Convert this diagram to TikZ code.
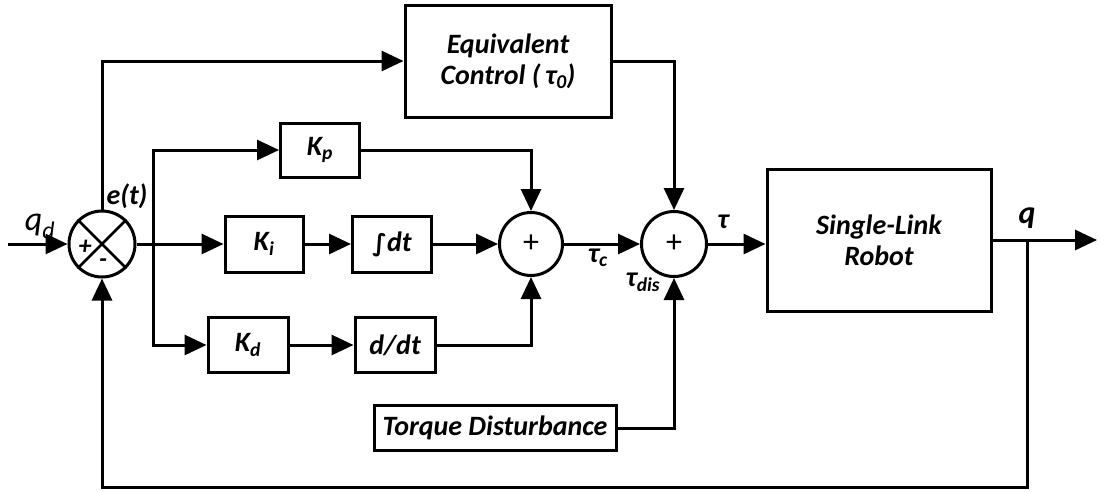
\documentclass[tikz,border=0pt]{standalone}
\usepackage{fontspec}
\setmainfont{Carlito}
\newfontfamily\symfont{DejaVu Sans}
\usetikzlibrary{arrows.meta}
\begin{document}
\begin{tikzpicture}[x=1pt,y=-1pt,
  line width=3pt,
  lbl/.style={font=\fontsize{28}{31}\selectfont\bfseries\itshape},
  blk/.style={draw,rectangle,line width=3pt,inner sep=0pt,align=center,lbl},
  sumc/.style={draw,circle,line width=3pt,inner sep=0pt},
  arr/.style={-{Triangle[length=22pt,width=20pt]}}]
\useasboundingbox (0,0) rectangle (1100,491);
% nodes
\node[sumc,minimum size=66pt] (se) at (102,244) {};
\node[blk,minimum width=206pt,minimum height=112pt] (eq) at (508,61) {Equivalent\\Control (\,τ\textsubscript{0})};
\node[blk,minimum width=79pt,minimum height=54pt] (kp) at (320,150) {K\textsubscript{p}};
\node[blk,minimum width=78pt,minimum height=56pt] (ki) at (264,244) {K\textsubscript{i}};
\node[blk,minimum width=79pt,minimum height=56pt] (int) at (392,244) {{\symfont\itshape\fontsize{24}{26}\selectfont ∫}dt};
\node[blk,minimum width=80pt,minimum height=55pt] (kd) at (248,345) {K\textsubscript{d}};
\node[blk,minimum width=80pt,minimum height=55pt] (ddt) at (395,345) {d/dt};
\node[sumc,minimum size=63pt] (s1) at (531,244) {\fontsize{32}{34}\selectfont +};
\node[sumc,minimum size=65pt] (s2) at (674,244) {\fontsize{32}{34}\selectfont +};
\node[blk,minimum width=224pt,minimum height=142pt] (rob) at (879,240) {Single-Link\\Robot};
\node[blk,minimum width=242pt,minimum height=45pt] (td) at (495,428) {Torque Disturbance};
% junction details
\draw[line width=2.6pt] (se.north west) -- (se.south east);
\draw[line width=2.6pt] (se.north east) -- (se.south west);
\node[font=\fontsize{26}{28}\selectfont\bfseries\itshape] (plus) at (85,247) {+};
\node[font=\fontsize{26}{28}\selectfont\bfseries\itshape] (minus) at (103,263) {-};
% coordinates
\coordinate (in) at (8,244);
\coordinate (br) at (153,244);
\coordinate (qp) at (1027,240);
\coordinate (out) at (1097,240);
\coordinate (fb) at (1027,487);
% labels
\node[font=\fontsize{34}{36}\selectfont\itshape] (qd) at (40,226) {q\textsubscript{d}};
\node[lbl] (et) at (127,196) {e(t)};
\node[lbl] (tc) at (598,258) {τ\textsubscript{c}};
\node[lbl] (tau) at (723,222) {τ};
\node[lbl] (tdis) at (643,282) {τ\textsubscript{dis}};
\node[font=\fontsize{32}{34}\selectfont\bfseries\itshape] (ql) at (1027,218) {q};
% connectors
\draw[arr] (in) -- (se.west);
\draw[arr] (se.north) |- (eq.west);
\draw (se.east) -- (br);
\draw[arr] (br) -- (ki.west);
\draw[arr] (br) |- (kp.west);
\draw[arr] (br) |- (kd.west);
\draw[arr] (ki) -- (int);
\draw[arr] (kd) -- (ddt);
\draw[arr] (kp.east) -| (s1.north);
\draw[arr] (int.east) -- (s1.west);
\draw[arr] (ddt.east) -| (s1.south);
\draw[arr] (s1.east) -- (s2.west);
\draw[arr] (eq.east) -| (s2.north);
\draw[arr] (td.east) -| (s2.south);
\draw[arr] (s2.east) -- (rob.west |- s2.east);
\draw[arr] (rob.east |- qp) -- (out);
\draw[arr] (qp) -- (fb) -| (se.south);
\end{tikzpicture}
\end{document}
